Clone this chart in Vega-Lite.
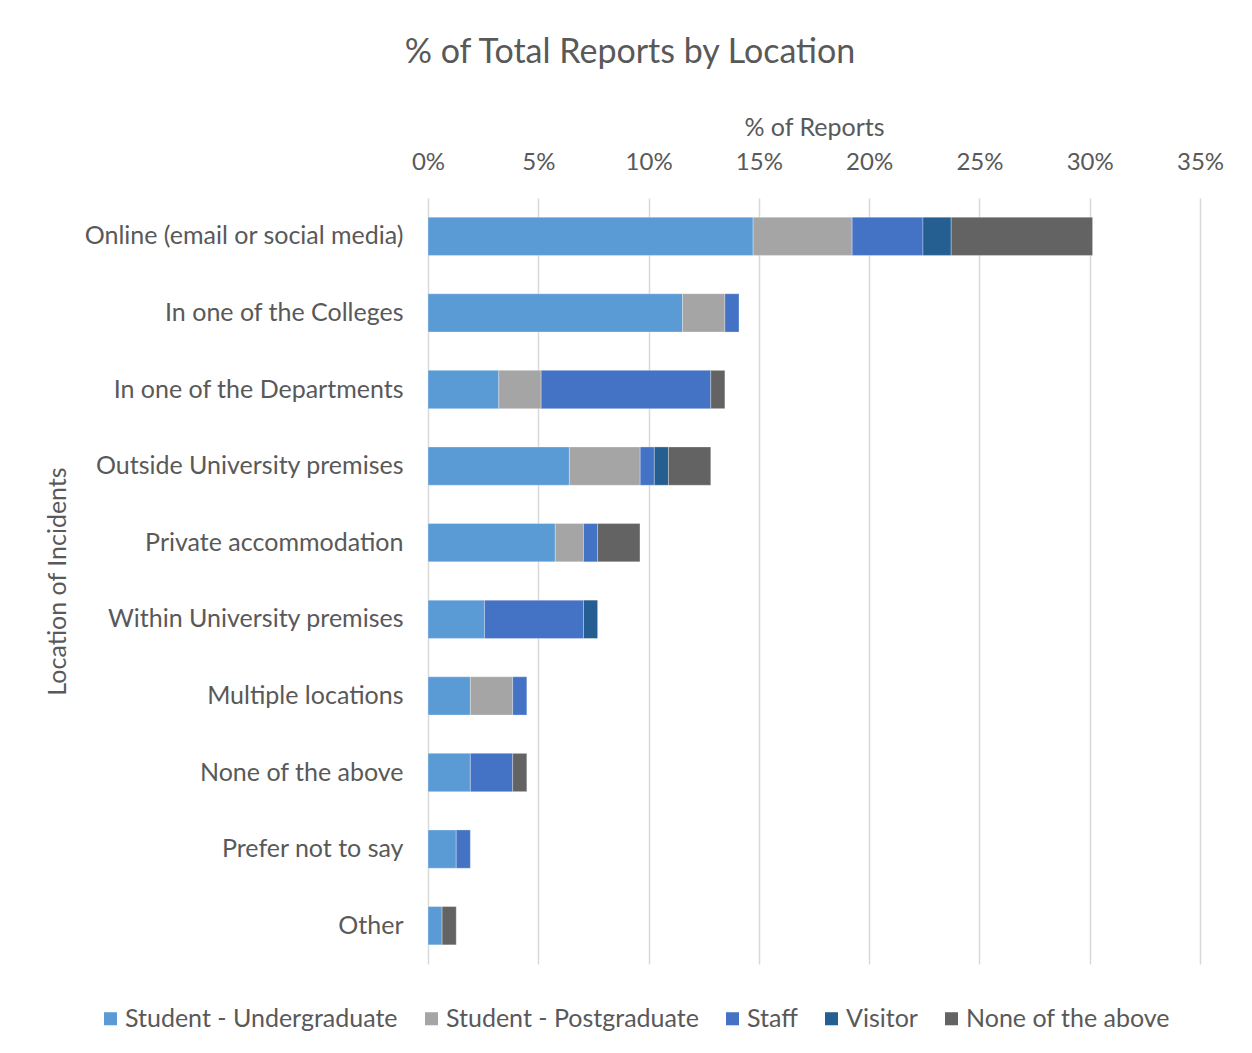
{
  "$schema": "https://vega.github.io/schema/vega-lite/v6.json",
  "width": 772,
  "height": 766,
  "autosize": "none",
  "padding": {"left": 428, "top": 198, "right": 52, "bottom": 89},
  "background": "white",
  "title": {
    "text": "% of Total Reports by Location",
    "font": "Lato",
    "fontSize": 34,
    "fontWeight": "normal",
    "color": "#595959",
    "anchor": "middle",
    "frame": "group",
    "dx": -184,
    "offset": 45
  },
  "data": {
    "values": [
      {"location": "Online (email or social media)", "role": "Student - Undergraduate", "rank": 1, "share": 0.1474},
      {"location": "Online (email or social media)", "role": "Student - Postgraduate", "rank": 2, "share": 0.0449},
      {"location": "Online (email or social media)", "role": "Staff", "rank": 3, "share": 0.0321},
      {"location": "Online (email or social media)", "role": "Visitor", "rank": 4, "share": 0.0128},
      {"location": "Online (email or social media)", "role": "None of the above", "rank": 5, "share": 0.0641},
      {"location": "In one of the Colleges", "role": "Student - Undergraduate", "rank": 1, "share": 0.1154},
      {"location": "In one of the Colleges", "role": "Student - Postgraduate", "rank": 2, "share": 0.0192},
      {"location": "In one of the Colleges", "role": "Staff", "rank": 3, "share": 0.0064},
      {"location": "In one of the Departments", "role": "Student - Undergraduate", "rank": 1, "share": 0.0321},
      {"location": "In one of the Departments", "role": "Student - Postgraduate", "rank": 2, "share": 0.0192},
      {"location": "In one of the Departments", "role": "Staff", "rank": 3, "share": 0.0769},
      {"location": "In one of the Departments", "role": "None of the above", "rank": 5, "share": 0.0064},
      {"location": "Outside University premises", "role": "Student - Undergraduate", "rank": 1, "share": 0.0641},
      {"location": "Outside University premises", "role": "Student - Postgraduate", "rank": 2, "share": 0.0321},
      {"location": "Outside University premises", "role": "Staff", "rank": 3, "share": 0.0064},
      {"location": "Outside University premises", "role": "Visitor", "rank": 4, "share": 0.0064},
      {"location": "Outside University premises", "role": "None of the above", "rank": 5, "share": 0.0192},
      {"location": "Private accommodation", "role": "Student - Undergraduate", "rank": 1, "share": 0.0577},
      {"location": "Private accommodation", "role": "Student - Postgraduate", "rank": 2, "share": 0.0128},
      {"location": "Private accommodation", "role": "Staff", "rank": 3, "share": 0.0064},
      {"location": "Private accommodation", "role": "None of the above", "rank": 5, "share": 0.0192},
      {"location": "Within University premises", "role": "Student - Undergraduate", "rank": 1, "share": 0.0256},
      {"location": "Within University premises", "role": "Staff", "rank": 3, "share": 0.0449},
      {"location": "Within University premises", "role": "Visitor", "rank": 4, "share": 0.0064},
      {"location": "Multiple locations", "role": "Student - Undergraduate", "rank": 1, "share": 0.0192},
      {"location": "Multiple locations", "role": "Student - Postgraduate", "rank": 2, "share": 0.0192},
      {"location": "Multiple locations", "role": "Staff", "rank": 3, "share": 0.0064},
      {"location": "None of the above", "role": "Student - Undergraduate", "rank": 1, "share": 0.0192},
      {"location": "None of the above", "role": "Staff", "rank": 3, "share": 0.0192},
      {"location": "None of the above", "role": "None of the above", "rank": 5, "share": 0.0064},
      {"location": "Prefer not to say", "role": "Student - Undergraduate", "rank": 1, "share": 0.0128},
      {"location": "Prefer not to say", "role": "Staff", "rank": 3, "share": 0.0064},
      {"location": "Other", "role": "Student - Undergraduate", "rank": 1, "share": 0.0064},
      {"location": "Other", "role": "None of the above", "rank": 5, "share": 0.0064}
    ]
  },
  "mark": {"type": "bar", "stroke": "#ffffff", "strokeWidth": 0.5, "strokeOpacity": 0.6},
  "encoding": {
    "y": {
      "field": "location",
      "type": "nominal",
      "sort": null,
      "scale": {"paddingInner": 0.5, "paddingOuter": 0.25},
      "axis": {
        "title": "Location of Incidents",
        "titleFont": "Lato",
        "titleFontSize": 25,
        "titleFontWeight": "normal",
        "titleColor": "#595959",
        "titleX": -358,
        "titleY": 383,
        "labelFont": "Lato",
        "labelFontSize": 25,
        "labelColor": "#595959",
        "labelPadding": 25,
        "labelLimit": 400,
        "ticks": false,
        "domain": false,
        "grid": false
      }
    },
    "x": {
      "field": "share",
      "type": "quantitative",
      "stack": "zero",
      "scale": {"domain": [0, 0.35], "nice": false},
      "axis": {
        "orient": "top",
        "title": "% of Reports",
        "titleFont": "Lato",
        "titleFontSize": 25,
        "titleFontWeight": "normal",
        "titleColor": "#595959",
        "titlePadding": 10,
        "format": ".0%",
        "values": [0, 0.05, 0.1, 0.15, 0.2, 0.25, 0.3, 0.35],
        "labelFont": "Lato",
        "labelFontSize": 24,
        "labelColor": "#595959",
        "labelPadding": 24,
        "labelFlush": false,
        "ticks": false,
        "domain": false,
        "grid": true,
        "gridColor": "#d9d9d9",
        "gridWidth": 1.5
      }
    },
    "color": {
      "field": "role",
      "type": "nominal",
      "scale": {
        "domain": ["Student - Undergraduate", "Student - Postgraduate", "Staff", "Visitor", "None of the above"],
        "range": ["#5B9BD5", "#A5A5A5", "#4472C4", "#255E91", "#636363"]
      },
      "legend": {
        "title": null,
        "orient": "none",
        "direction": "horizontal",
        "legendX": -330,
        "legendY": 808,
        "symbolType": "square",
        "symbolSize": 170,
        "symbolStrokeWidth": 0,
        "labelFont": "Lato",
        "labelFontSize": 25,
        "labelColor": "#595959",
        "labelOffset": 2,
        "columnPadding": 21,
        "labelLimit": 400
      }
    },
    "order": {"field": "rank", "type": "quantitative"}
  },
  "config": {
    "view": {"stroke": null}
  }
}
